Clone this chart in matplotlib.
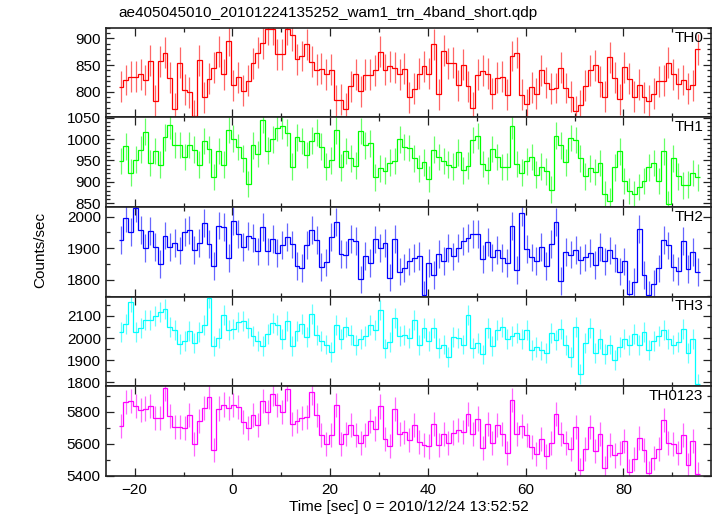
import numpy as np
import matplotlib
matplotlib.use("Agg")
import matplotlib.pyplot as plt
from matplotlib.ticker import MultipleLocator

plt.rcParams["font.family"] = ["Liberation Sans", "DejaVu Sans"]

TITLE = "ae405045010_20101224135252_wam1_trn_4band_short.qdp"
XLABEL = "Time [sec] 0 = 2010/12/24 13:52:52"
YLABEL = "Counts/sec"

# 1 s bins, first bin centre at -22.8 s
T_START = -22.8
BIN = 1.0

th0 = [
    809, 822, 828, 828, 833, 822, 858, 783, 857, 873,
    826, 768, 854, 804, 799, 755, 859, 790, 824, 845,
    875, 833, 896, 812, 827, 802, 821, 853, 873, 891,
    917, 917, 870, 870, 917, 906, 861, 867, 889, 856,
    841, 843, 833, 841, 784, 785, 768, 810, 833, 801,
    832, 832, 840, 875, 841, 848, 845, 833, 843, 790,
    806, 834, 848, 834, 889, 795, 877, 853, 854, 812,
    851, 810, 770, 832, 839, 834, 796, 826, 828, 794,
    867, 873, 794, 777, 808, 796, 840, 817, 806, 807,
    845, 807, 791, 763, 775, 811, 840, 850, 819, 791,
    865, 826, 786, 846, 824, 791, 813, 790, 783, 796,
    820, 821, 854, 833, 815, 822, 806, 812, 880,
]

th1 = [
    949, 983, 922, 952, 975, 1017, 944, 972, 940, 1004,
    1032, 986, 986, 958, 986, 975, 940, 995, 976, 912,
    972, 940, 1021, 1001, 981, 955, 895, 985, 965, 1045,
    973, 999, 1026, 1031, 1015, 936, 1004, 995, 963, 996,
    1015, 982, 936, 950, 1020, 934, 972, 955, 938, 1019,
    985, 990, 911, 932, 926, 945, 949, 999, 981, 979,
    955, 932, 946, 907, 975, 958, 949, 940, 936, 969,
    927, 938, 998, 1007, 942, 927, 977, 958, 935, 936,
    1030, 942, 922, 948, 958, 917, 936, 925, 882, 1008,
    985, 946, 1002, 998, 955, 913, 932, 923, 944, 872,
    855, 934, 971, 902, 879, 871, 888, 902, 934, 944,
    902, 971, 849, 955, 913, 892, 894, 921, 911,
]

th2 = [
    1925, 1995, 1952, 2027, 1959, 1901, 1955, 1905, 1850, 1940,
    1903, 1916, 1893, 1951, 1959, 1895, 1916, 1981, 1914, 1843,
    1972, 1968, 1869, 1987, 1946, 1903, 1939, 1933, 1890, 1968,
    1890, 1930, 1885, 1911, 1936, 1912, 1844, 1837, 1911, 1959,
    1925, 1841, 1855, 1936, 1984, 1882, 1880, 1930, 1922, 1801,
    1876, 1852, 1928, 1900, 1916, 1807, 1930, 1826, 1837, 1858,
    1869, 1876, 1753, 1852, 1814, 1882, 1860, 1900, 1874, 1900,
    1923, 1932, 1946, 1944, 1866, 1919, 1871, 1895, 1868, 1852,
    1970, 1830, 2013, 1898, 1871, 1860, 1903, 1844, 1914, 1984,
    1796, 1887, 1880, 1895, 1862, 1871, 1884, 1847, 1903, 1858,
    1893, 1869, 1826, 1858, 1755, 1793, 1960, 1814, 1753, 1787,
    1836, 1925, 1909, 1839, 1828, 1923, 1833, 1887, 1825,
]

th3 = [
    2027, 2065, 2164, 2029, 2047, 2082, 2082, 2100, 2118, 2130,
    2052, 2036, 1974, 1986, 2032, 1976, 2029, 2059, 2179, 1964,
    2002, 2105, 2036, 2042, 2073, 2076, 2047, 2009, 1986, 1964,
    2017, 2067, 2059, 1994, 2077, 1964, 2032, 2062, 2006, 2108,
    2015, 1986, 1971, 1936, 2058, 1997, 2052, 2012, 1967, 1994,
    2009, 2059, 2036, 2127, 1953, 1982, 2092, 2009, 2014, 2002,
    2082, 1967, 2047, 1986, 2047, 1956, 1971, 1915, 2005, 2002,
    1971, 2105, 1956, 1979, 1926, 2047, 1964, 2036, 2052, 1994,
    2009, 2021, 1997, 2035, 1948, 1961, 1944, 1933, 2024, 1991,
    2042, 1967, 1915, 2052, 1838, 1976, 2047, 1933, 1994, 1929,
    1971, 1900, 1961, 1994, 1968, 2020, 1968, 2029, 1945, 1986,
    2009, 2036, 1997, 1971, 1982, 2042, 1933, 1994, 1792,
]

th0123 = [
    5712, 5863, 5867, 5838, 5811, 5821, 5838, 5762, 5762, 5947,
    5775, 5705, 5705, 5699, 5779, 5598, 5743, 5825, 5895, 5562,
    5821, 5846, 5825, 5842, 5832, 5737, 5699, 5779, 5716, 5867,
    5800, 5912, 5842, 5800, 5943, 5722, 5743, 5762, 5766, 5922,
    5779, 5653, 5598, 5657, 5844, 5598, 5663, 5720, 5657, 5606,
    5653, 5741, 5695, 5834, 5632, 5585, 5817, 5659, 5674, 5621,
    5716, 5611, 5590, 5583, 5722, 5594, 5659, 5606, 5670, 5684,
    5674, 5787, 5663, 5758, 5573, 5726, 5604, 5716, 5663, 5543,
    5874, 5663, 5710, 5657, 5579, 5537, 5632, 5520, 5604, 5787,
    5663, 5604, 5569, 5705, 5432, 5569, 5705, 5552, 5659, 5449,
    5594, 5526, 5541, 5615, 5425, 5505, 5636, 5558, 5415, 5510,
    5569, 5747, 5606, 5600, 5541, 5653, 5468, 5615, 5411,
]

names = ["TH0", "TH1", "TH2", "TH3", "TH0123"]
series = [th0, th1, th2, th3, th0123]
errors = [29, 31, 44, 45, 76]          # typical 1-sigma bar
colors = ["#ff0000", "#00ff00", "#0000ff", "#00ffff", "#ff00ff"]
ylims = [(752, 920), (842, 1050.5), (1747, 2031), (1783, 2188), (5399, 5962)]
yticks = [(50, 10), (50, 10), (100, 50), (100, 50), (200, 100)]

n = len(th0)
t = T_START + BIN * np.arange(n)
edges = np.concatenate([t - BIN / 2, [t[-1] + BIN / 2]])

fig, axes = plt.subplots(5, 1, sharex=True, figsize=(7.17, 5.16), dpi=100)
fig.subplots_adjust(left=0.1483, right=0.9916, top=0.9463, bottom=0.0781,
                    hspace=0)

for ax, name, vals, err, col, yl, (maj, mnr) in zip(
        axes, names, series, errors, colors, ylims, yticks):
    vals = np.asarray(vals, dtype=float)
    ax.errorbar(t, vals, yerr=err, fmt="none", ecolor=col, elinewidth=0.9,
                capsize=0, alpha=0.6, zorder=2)
    ax.stairs(vals, edges, baseline=None, color=col, linewidth=0.9, zorder=3)
    ax.set_ylim(*yl)
    ax.yaxis.set_major_locator(MultipleLocator(maj))
    ax.yaxis.set_minor_locator(MultipleLocator(mnr))
    ax.text(0.987, 0.89, name, transform=ax.transAxes, ha="right",
            va="center", fontsize=11)
    ax.tick_params(which="both", direction="in", top=True, right=True,
                   labelsize=11, width=0.9, colors="#222222",
                   labelcolor="black")
    ax.tick_params(which="major", length=5.5, pad=4)
    ax.tick_params(which="minor", length=3.2)
    for sp in ax.spines.values():
        sp.set_linewidth(1.2)
        sp.set_color("#222222")

axes[-1].set_xlim(-25.8, 97.9)
axes[-1].xaxis.set_major_locator(MultipleLocator(20))
axes[-1].xaxis.set_minor_locator(MultipleLocator(10))
axes[-1].tick_params(axis="x", which="major", pad=5)

fig.text(118 / 717, 1 - 13 / 516, TITLE, ha="left", va="center", fontsize=11)
fig.text(40 / 717, 1 - 250 / 516, YLABEL, ha="center", va="center",
         rotation=90, fontsize=11)
fig.text(408.5 / 717, 1 - 507 / 516, XLABEL, ha="center", va="center",
         fontsize=11)

fig.savefig("out.png", dpi=100)
plt.close(fig)
